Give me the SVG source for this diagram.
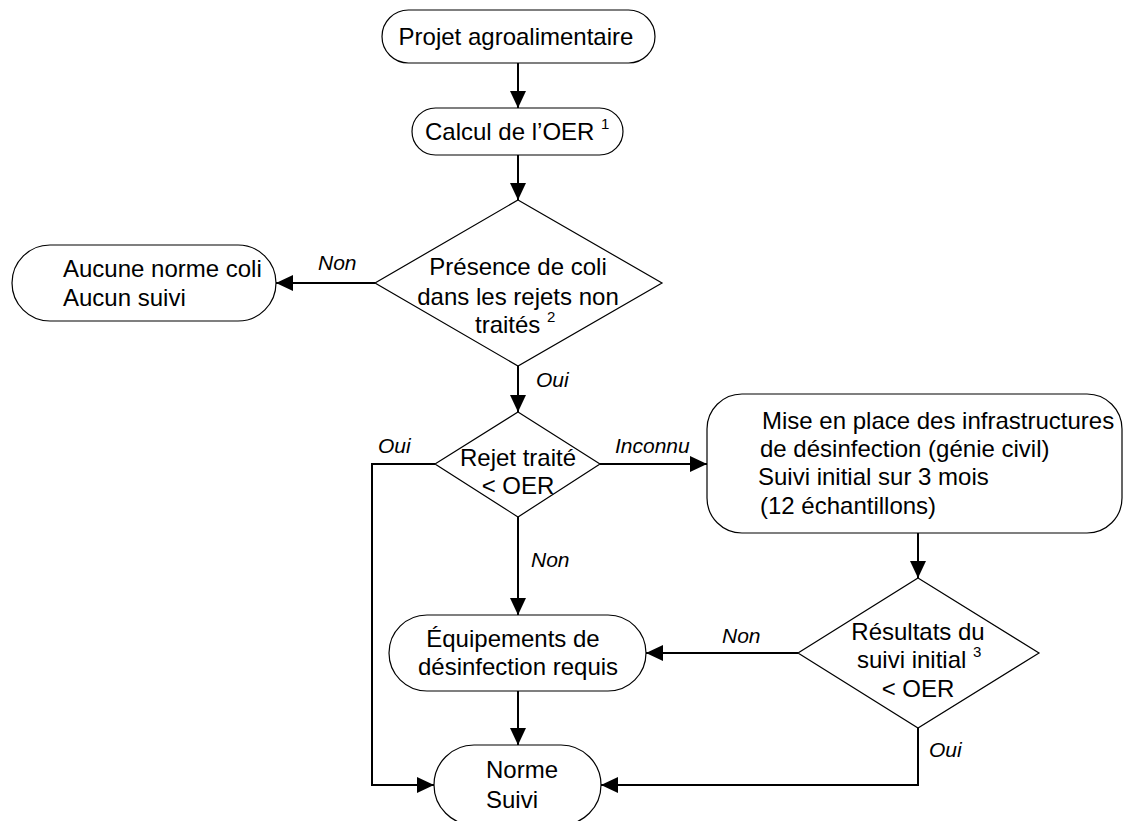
<svg xmlns="http://www.w3.org/2000/svg" width="1124" height="821" viewBox="0 0 1124 821">
<style>
.n{fill:#fff;stroke:#000;stroke-width:1.2}
.t{font-family:"Liberation Sans",Arial,sans-serif;font-size:24px;fill:#000}
.c{text-anchor:middle}
.sup{font-size:15px}
.l{font-family:"Liberation Sans",Arial,sans-serif;font-size:21px;font-style:italic;fill:#000}
.e{fill:none;stroke:#000;stroke-width:2}
</style>
<defs>
<marker id="ah" markerUnits="userSpaceOnUse" markerWidth="17" markerHeight="16" refX="17" refY="8" orient="auto">
<path d="M0,0 L17,8 L0,16 Z" fill="#000"/>
</marker>
</defs>
<rect width="1124" height="821" fill="#fff"/>
<g id="connectors">
<path class="e" d="M518,63 V108" marker-end="url(#ah)"/>
<path class="e" d="M518,155 V200" marker-end="url(#ah)"/>
<path class="e" d="M375,283 H276" marker-end="url(#ah)"/>
<path class="e" d="M518,366 V412" marker-end="url(#ah)"/>
<path class="e" d="M435,464 H372 V785 H434" marker-end="url(#ah)"/>
<path class="e" d="M600,464 H707" marker-end="url(#ah)"/>
<path class="e" d="M518,517 V615" marker-end="url(#ah)"/>
<path class="e" d="M918,533 V578" marker-end="url(#ah)"/>
<path class="e" d="M798,653 H646" marker-end="url(#ah)"/>
<path class="e" d="M518,691 V745" marker-end="url(#ah)"/>
<path class="e" d="M918,728 V785 H601" marker-end="url(#ah)"/>
<text class="l" x="318" y="270">Non</text>
<text class="l" x="536" y="387">Oui</text>
<text class="l" x="378" y="453">Oui</text>
<text class="l" x="615" y="453">Inconnu</text>
<text class="l" x="531" y="567">Non</text>
<text class="l" x="722" y="643">Non</text>
<text class="l" x="929" y="757">Oui</text>
</g>
<g id="projet">
<rect class="n" x="382" y="10" width="273" height="53" rx="26.5"/>
<text class="t c" x="516" y="45">Projet agroalimentaire</text>
</g>
<g id="calcul">
<rect class="n" x="412" y="108" width="211" height="47" rx="23.5"/>
<text class="t" x="425" y="140">Calcul de l’OER <tspan class="sup" dy="-11">1</tspan></text>
</g>
<g id="presence">
<polygon class="n" points="518,200 662,283 518,366 375,283"/>
<text class="t c" x="518" y="275">Présence de coli</text>
<text class="t c" x="518" y="305">dans les rejets non</text>
<text class="t" x="475" y="333">traités <tspan class="sup" dy="-11">2</tspan></text>
</g>
<g id="aucune">
<rect class="n" x="12" y="245" width="264" height="76" rx="38"/>
<text class="t" x="63" y="277">Aucune norme coli</text>
<text class="t" x="63" y="306">Aucun suivi</text>
</g>
<g id="rejet">
<polygon class="n" points="518,412 600,464 518,517 435,464"/>
<text class="t c" x="518" y="466">Rejet traité</text>
<text class="t c" x="518" y="494">&lt; OER</text>
</g>
<g id="mise">
<rect class="n" x="707" y="394" width="415" height="139" rx="35"/>
<text class="t" x="762" y="429">Mise en place des infrastructures</text>
<text class="t" x="760" y="457">de désinfection (génie civil)</text>
<text class="t" x="758" y="485">Suivi initial sur 3 mois</text>
<text class="t" x="760" y="514">(12 échantillons)</text>
</g>
<g id="resultats">
<polygon class="n" points="918,578 1039,653 918,728 798,653"/>
<text class="t c" x="918" y="640">Résultats du</text>
<text class="t" x="857" y="668">suivi initial <tspan class="sup" dy="-11">3</tspan></text>
<text class="t c" x="918" y="697">&lt; OER</text>
</g>
<g id="equipements">
<rect class="n" x="389" y="615" width="257" height="76" rx="38"/>
<text class="t c" x="513" y="647">Équipements de</text>
<text class="t c" x="518" y="675">désinfection requis</text>
</g>
<g id="norme">
<rect class="n" x="434" y="745" width="167" height="80" rx="40"/>
<text class="t" x="486" y="778">Norme</text>
<text class="t" x="486" y="808">Suivi</text>
</g>
</svg>
